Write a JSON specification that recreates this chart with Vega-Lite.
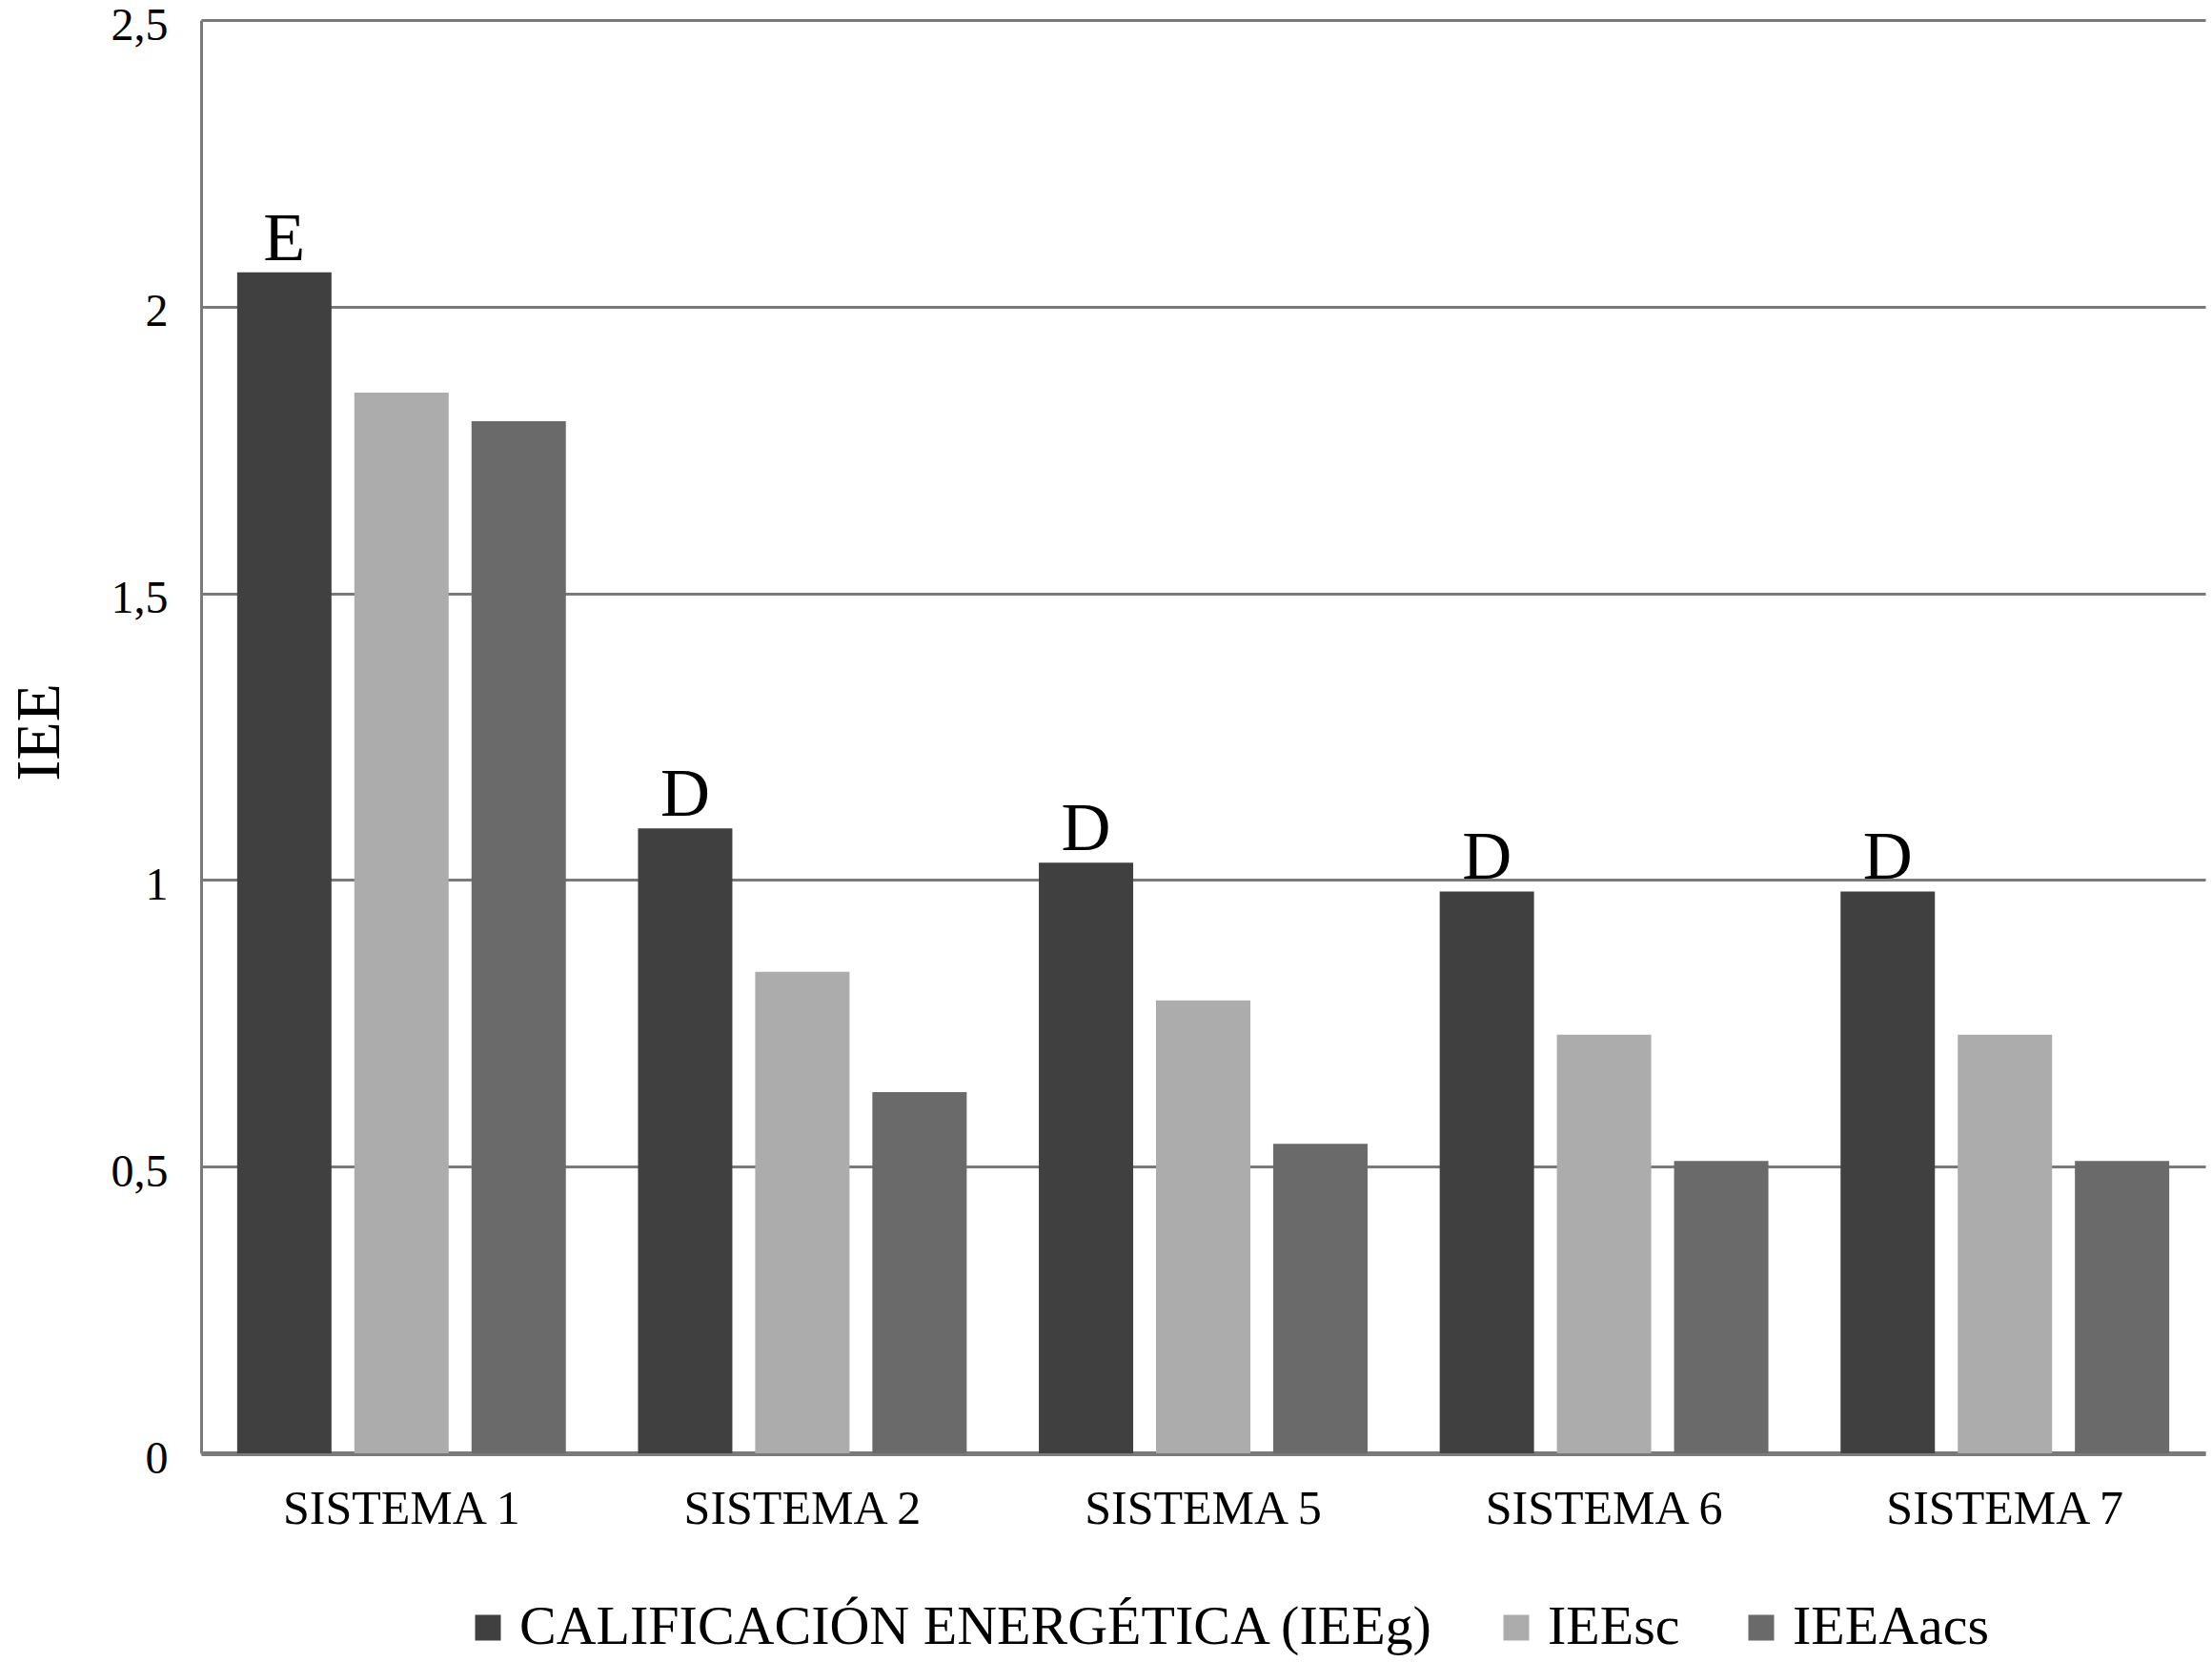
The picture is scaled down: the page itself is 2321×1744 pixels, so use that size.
{
  "$schema": "https://vega.github.io/schema/vega-lite/v6.json",
  "width": 2103,
  "height": 1504,
  "autosize": {"type": "none"},
  "padding": {"left": 211, "top": 21, "right": 7, "bottom": 219},
  "background": "white",
  "config": {
    "view": {"stroke": null},
    "font": "Liberation Serif"
  },
  "data": {
    "values": [
      {"sistema": "SISTEMA 1", "serie": "CALIFICACIÓN ENERGÉTICA (IEEg)", "valor": 2.06, "etiqueta": "E"},
      {"sistema": "SISTEMA 1", "serie": "IEEsc", "valor": 1.85, "etiqueta": ""},
      {"sistema": "SISTEMA 1", "serie": "IEEAacs", "valor": 1.80, "etiqueta": ""},
      {"sistema": "SISTEMA 2", "serie": "CALIFICACIÓN ENERGÉTICA (IEEg)", "valor": 1.09, "etiqueta": "D"},
      {"sistema": "SISTEMA 2", "serie": "IEEsc", "valor": 0.84, "etiqueta": ""},
      {"sistema": "SISTEMA 2", "serie": "IEEAacs", "valor": 0.63, "etiqueta": ""},
      {"sistema": "SISTEMA 5", "serie": "CALIFICACIÓN ENERGÉTICA (IEEg)", "valor": 1.03, "etiqueta": "D"},
      {"sistema": "SISTEMA 5", "serie": "IEEsc", "valor": 0.79, "etiqueta": ""},
      {"sistema": "SISTEMA 5", "serie": "IEEAacs", "valor": 0.54, "etiqueta": ""},
      {"sistema": "SISTEMA 6", "serie": "CALIFICACIÓN ENERGÉTICA (IEEg)", "valor": 0.98, "etiqueta": "D"},
      {"sistema": "SISTEMA 6", "serie": "IEEsc", "valor": 0.73, "etiqueta": ""},
      {"sistema": "SISTEMA 6", "serie": "IEEAacs", "valor": 0.51, "etiqueta": ""},
      {"sistema": "SISTEMA 7", "serie": "CALIFICACIÓN ENERGÉTICA (IEEg)", "valor": 0.98, "etiqueta": "D"},
      {"sistema": "SISTEMA 7", "serie": "IEEsc", "valor": 0.73, "etiqueta": ""},
      {"sistema": "SISTEMA 7", "serie": "IEEAacs", "valor": 0.51, "etiqueta": ""}
    ]
  },
  "encoding": {
    "x": {
      "field": "sistema",
      "type": "nominal",
      "sort": ["SISTEMA 1", "SISTEMA 2", "SISTEMA 5", "SISTEMA 6", "SISTEMA 7"],
      "scale": {"paddingInner": 0.18, "paddingOuter": 0.09},
      "axis": {
        "title": null,
        "labelAngle": 0,
        "labelFontSize": 50,
        "labelColor": "#000000",
        "labelFont": "Liberation Serif",
        "labelPadding": 33,
        "labelLimit": 1000,
        "ticks": false,
        "domainColor": "#7a7a7a",
        "domainWidth": 5,
        "grid": false
      }
    },
    "xOffset": {
      "field": "serie",
      "type": "nominal",
      "sort": ["CALIFICACIÓN ENERGÉTICA (IEEg)", "IEEsc", "IEEAacs"],
      "scale": {"paddingInner": 0.195, "paddingOuter": 0}
    },
    "y": {
      "field": "valor",
      "type": "quantitative",
      "scale": {"domain": [0, 2.5], "nice": false},
      "axis": {
        "title": "IEE",
        "titleFontSize": 66,
        "titleFontWeight": "normal",
        "titleColor": "#000000",
        "titleFont": "Liberation Serif",
        "titleAngle": -90,
        "titleX": -170,
        "titleY": 747,
        "titleAlign": "center",
        "titleBaseline": "middle",
        "values": [0, 0.5, 1, 1.5, 2, 2.5],
        "labelExpr": "replace(format(datum.value, '~g'), '.', ',')",
        "labelFontSize": 48,
        "labelColor": "#000000",
        "labelFont": "Liberation Serif",
        "labelPadding": 35,
        "labelOffset": 6,
        "ticks": false,
        "domainColor": "#7a7a7a",
        "domainWidth": 3,
        "grid": true,
        "gridColor": "#7a7a7a",
        "gridWidth": 3
      }
    }
  },
  "layer": [
    {
      "mark": {"type": "bar"},
      "encoding": {
        "color": {
          "field": "serie",
          "type": "nominal",
          "sort": ["CALIFICACIÓN ENERGÉTICA (IEEg)", "IEEsc", "IEEAacs"],
          "scale": {
            "domain": ["CALIFICACIÓN ENERGÉTICA (IEEg)", "IEEsc", "IEEAacs"],
            "range": ["#404040", "#adacad", "#6b6a6b"]
          },
          "legend": {
            "title": null,
            "orient": "none",
            "direction": "horizontal",
            "legendX": 272,
            "legendY": 1658,
            "symbolType": "square",
            "symbolSize": 729,
            "symbolStrokeWidth": 0,
            "symbolOpacity": 1,
            "labelFontSize": 58,
            "labelFont": "Liberation Serif",
            "labelColor": "#000000",
            "labelOffset": 4,
            "labelLimit": 2000,
            "columnPadding": 56
          }
        }
      }
    },
    {
      "transform": [{"filter": "datum.etiqueta != ''"}],
      "mark": {
        "type": "text",
        "baseline": "alphabetic",
        "align": "center",
        "dy": -13,
        "fontSize": 72,
        "font": "Liberation Serif",
        "color": "#000000"
      },
      "encoding": {
        "text": {"field": "etiqueta", "type": "nominal"}
      }
    }
  ]
}
